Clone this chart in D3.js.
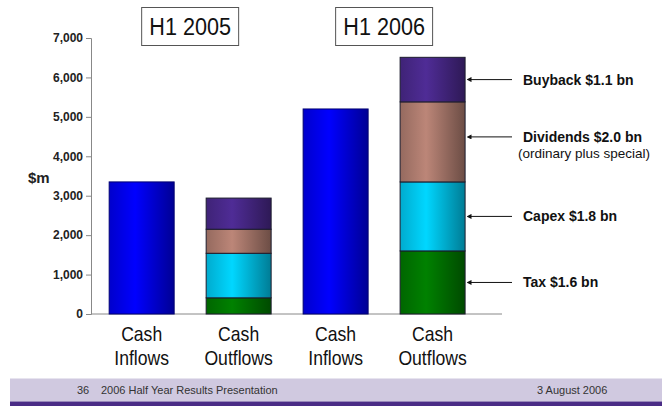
<!DOCTYPE html>
<html>
<head>
<meta charset="utf-8">
<script src="https://cdn.jsdelivr.net/npm/d3@7"></script>
<style>
  body { margin: 0; background: #fff; }
  svg { display: block; font-family: "Liberation Sans", Arial, sans-serif; }
</style>
</head>
<body>
<div id="chart"></div>
<script>
// chart data
var periods = ["H1 2005", "H1 2006"];
var columns = ["in05", "out05", "in06", "out06"];
var columnLabels = [["Cash", "Inflows"], ["Cash", "Outflows"], ["Cash", "Inflows"], ["Cash", "Outflows"]];
var inflows = [3350, 5200];
var tax = [410, 1600];
var capex = [1130, 1750];
var dividends = [610, 2030];
var buyback = [790, 1130];
var outflowKeys = ["tax", "capex", "dividends", "buyback"];
var yTicks = [0, 1000, 2000, 3000, 4000, 5000, 6000, 7000];
var notes = {
    buyback: ["Buyback $1.1 bn"],
    dividends: ["Dividends $2.0 bn", "(ordinary plus special)"],
    capex: ["Capex $1.8 bn"],
    tax: ["Tax $1.6 bn"]
};

var colors = {
    inflow: "#0000f4",
    tax: "#007a00",
    capex: "#00ccf6",
    dividends: "#b27f72",
    buyback: "#4b2a8e"
};

var W = 662, H = 406;

var svg = d3.select("#chart").append("svg")
    .attr("width", W)
    .attr("height", H);

// horizontal shading like the original slide
var defs = svg.append("defs");
Object.keys(colors).forEach(function(k) {
    var c = d3.color(colors[k]);
    var g = defs.append("linearGradient").attr("id", "g-" + k)
        .attr("x1", "0%").attr("x2", "100%").attr("y1", "0%").attr("y2", "0%");
    g.append("stop").attr("offset", "0%").attr("stop-color", c.darker(0.5));
    g.append("stop").attr("offset", "40%").attr("stop-color", c.brighter(0.15));
    g.append("stop").attr("offset", "100%").attr("stop-color", c.darker(1.4));
});

var x = d3.scaleBand()
    .domain(columns)
    .range([91, 502])
    .paddingInner(0.33)
    .paddingOuter(0.284)
    .align(0.33);

var y = d3.scaleLinear()
    .domain([0, 7000])
    .range([314, 38]);

// y axis
var yAxis = svg.append("g")
    .attr("transform", "translate(91,0)")
    .call(d3.axisLeft(y).tickValues(yTicks).tickSize(5).tickPadding(3).tickFormat(d3.format(",")));
yAxis.select(".domain").attr("stroke", "#888");
yAxis.selectAll(".tick line").attr("stroke", "#888");
yAxis.selectAll(".tick text")
    .attr("fill", "#222")
    .style("font-size", "12px")
    .style("font-weight", "bold")
    .style("font-family", "'Liberation Sans', Arial, sans-serif");

svg.append("text")
    .attr("x", 28).attr("y", 183)
    .attr("fill", "#222")
    .style("font-size", "15px")
    .style("font-weight", "bold")
    .text("$m");

// baseline
svg.append("line")
    .attr("x1", 91).attr("x2", 502)
    .attr("y1", y(0)).attr("y2", y(0))
    .attr("stroke", "#888");

// inflow bars
svg.selectAll(".inflow")
    .data(inflows)
    .enter().append("rect")
    .attr("class", "inflow")
    .attr("x", function(d, i) { return x(columns[i * 2]); })
    .attr("y", function(d) { return y(d); })
    .attr("width", x.bandwidth())
    .attr("height", function(d) { return y(0) - y(d); })
    .attr("fill", "url(#g-inflow)")
    .attr("stroke", "#000070")
    .attr("stroke-width", 1);

// stacked outflow bars
var outRows = periods.map(function(p, i) {
    return { col: columns[i * 2 + 1], tax: tax[i], capex: capex[i], dividends: dividends[i], buyback: buyback[i] };
});
var stacked = d3.stack().keys(outflowKeys)(outRows);

var layers = svg.selectAll(".layer")
    .data(stacked)
    .enter().append("g")
    .attr("class", "layer")
    .attr("fill", function(d) { return "url(#g-" + d.key + ")"; });

layers.selectAll("rect")
    .data(function(d) { return d; })
    .enter().append("rect")
    .attr("x", function(d) { return x(d.data.col); })
    .attr("y", function(d) { return y(d[1]); })
    .attr("width", x.bandwidth())
    .attr("height", function(d) { return y(d[0]) - y(d[1]); })
    .attr("stroke", "#1c1c2c")
    .attr("stroke-width", 1);

// column labels (slightly condensed, as on the slide)
var labels = svg.selectAll(".xlabel")
    .data(columns)
    .enter().append("text")
    .attr("class", "xlabel")
    .attr("text-anchor", "middle")
    .attr("fill", "#111")
    .attr("transform", function(d) { return "translate(" + (x(d) + x.bandwidth() / 2) + ",0) scale(0.88,1)"; })
    .style("font-size", "20px");
labels.each(function(d, i) {
    var t = d3.select(this);
    columnLabels[i].forEach(function(line, j) {
        t.append("tspan").attr("x", 0).attr("y", 341.5 + j * 23.5).text(line);
    });
});

// period boxes
periods.forEach(function(p, i) {
    var a = x(columns[i * 2]) + x.bandwidth() / 2;
    var b = x(columns[i * 2 + 1]) + x.bandwidth() / 2;
    var cx = (a + b) / 2;
    var bw = x.step();
    svg.append("rect")
        .attr("x", cx - bw / 2).attr("y", 7.5)
        .attr("width", bw).attr("height", 38)
        .attr("fill", "#fff")
        .attr("stroke", "#555");
    svg.append("text")
        .attr("transform", "translate(" + cx + ",35) scale(0.9,1)")
        .attr("text-anchor", "middle")
        .attr("fill", "#111")
        .style("font-size", "24px")
        .text(p);
});

// arrows pointing at the H1 2006 segments
defs.append("marker")
    .attr("id", "head")
    .attr("viewBox", "0 0 10 10")
    .attr("refX", 1).attr("refY", 5)
    .attr("markerWidth", 5).attr("markerHeight", 5)
    .attr("orient", "auto-start-reverse")
    .append("path")
    .attr("d", "M0,0 L10,5 L0,10 z")
    .attr("fill", "#111");

var last = outRows.length - 1;
stacked.forEach(function(layer) {
    var seg = layer[last];
    var my = (y(seg[0]) + y(seg[1])) / 2;
    if (layer.key === "dividends") my -= 5;
    svg.append("line")
        .attr("x1", 471).attr("x2", 512)
        .attr("y1", my).attr("y2", my)
        .attr("stroke", "#111")
        .attr("stroke-width", 1)
        .attr("marker-start", "url(#head)");
    var lines = notes[layer.key];
    svg.append("text")
        .attr("x", 523).attr("y", my + 5)
        .attr("fill", "#111")
        .style("font-size", "14px")
        .style("font-weight", "bold")
        .text(lines[0]);
    if (lines[1]) {
        svg.append("text")
            .attr("x", 518).attr("y", my + 21)
            .attr("fill", "#111")
            .style("font-size", "13.5px")
            .text(lines[1]);
    }
});

// footer band
svg.append("rect")
    .attr("x", 10).attr("y", 378.5)
    .attr("width", W - 10).attr("height", 23)
    .attr("fill", "#d0c9e0");
svg.append("rect")
    .attr("x", 10).attr("y", 401.5)
    .attr("width", W - 10).attr("height", 5)
    .attr("fill", "#4a2c86");
svg.append("text")
    .attr("x", 77).attr("y", 393.5)
    .attr("fill", "#333")
    .style("font-size", "11px")
    .text("36");
svg.append("text")
    .attr("x", 101).attr("y", 393.5)
    .attr("fill", "#333")
    .style("font-size", "11px")
    .text("2006 Half Year Results Presentation");
svg.append("text")
    .attr("x", 537).attr("y", 393.5)
    .attr("fill", "#333")
    .style("font-size", "11px")
    .text("3 August 2006");
</script>
</body>
</html>
